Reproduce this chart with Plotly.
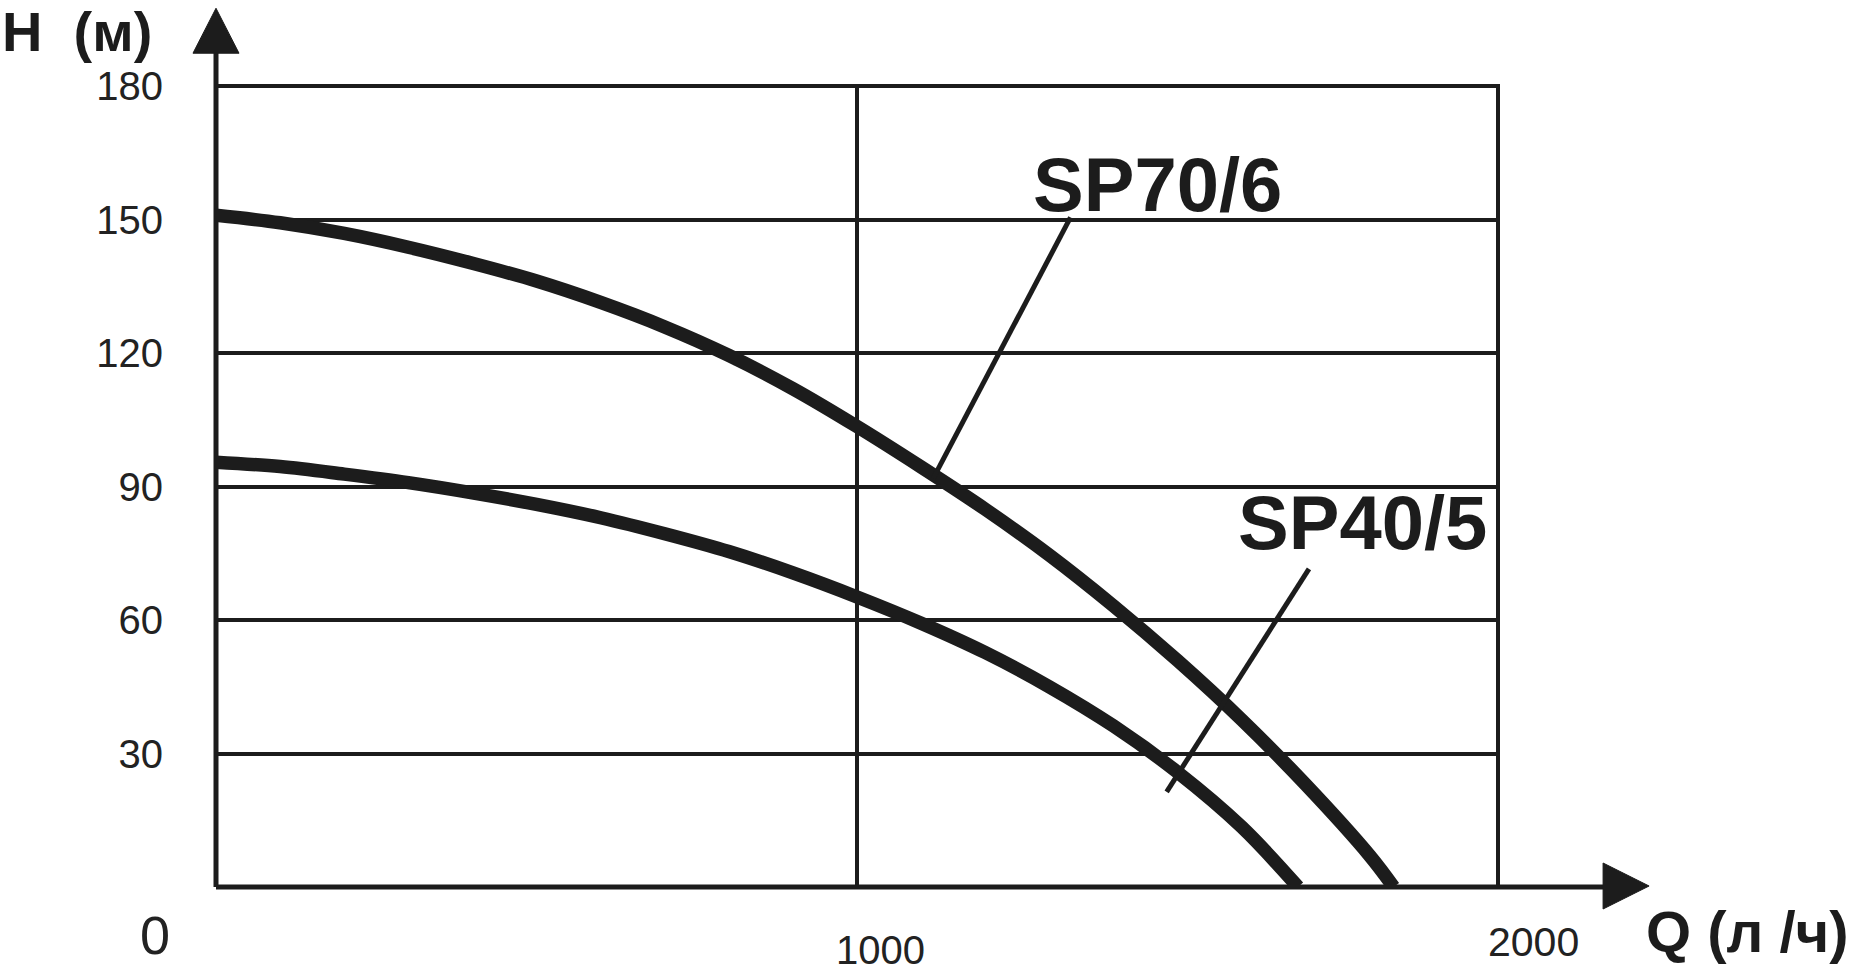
import plotly.graph_objects as go

# ---- data ----
q_sp70 = [0, 100, 200, 300, 400, 500, 600, 700, 800, 900, 1000, 1100, 1200, 1300, 1400, 1500, 1600, 1700, 1800, 1837]
h_sp70 = [151, 149.3, 146.9, 143.8, 140.2, 136.2, 131.4, 125.9, 119.5, 112, 103.5, 94.4, 84.9, 74.6, 63.2, 50.9, 37.6, 23, 7, 0]

q_sp40 = [0, 100, 200, 300, 400, 500, 600, 700, 800, 900, 1000, 1100, 1200, 1300, 1400, 1500, 1600, 1688]
h_sp40 = [95.5, 94.5, 92.8, 90.9, 88.6, 86, 83, 79.4, 75.4, 70.6, 65.2, 59.3, 52.7, 45, 36.2, 25.8, 13.5, 0]

series_names = ["SP70/6", "SP40/5"]
label_q = [1468, 1788]
label_h = [158, 82]
leader_q = [[1333, 1119], [1705, 1483]]
leader_h = [[150.5, 91.9], [71.5, 21.4]]

y_tick_vals = [30, 60, 90, 120, 150, 180]
y_tick_text = ["30", "60", "90", "120", "150", "180"]
x_tick_vals = [0, 1000, 2000]
x_tick_text = ["0", "1000", "2000"]
y_title = "H\u00a0\u00a0(м)"
x_title = "Q (л /ч)"

# ---- styles ----
INK = "#1c1c1c"
FONT = "Liberation Sans, Arial, sans-serif"
x_tick_xshift = [-61, 23, 35]
x_tick_yshift = [-48, -63, -55]
x_tick_size = [54, 40, 41]

fig = go.Figure()

for q, h in ((q_sp70, h_sp70), (q_sp40, h_sp40)):
    fig.add_trace(go.Scatter(x=q, y=h, mode="lines", line=dict(color=INK, width=13.5, shape="spline", smoothing=1.0),
                             hoverinfo="skip", showlegend=False, cliponaxis=False))

for lq, lh in zip(leader_q, leader_h):
    fig.add_trace(go.Scatter(x=lq, y=lh, mode="lines", line=dict(color=INK, width=5),
                             hoverinfo="skip", showlegend=False))

annotations = []
for name, xq, yh in zip(series_names, label_q, label_h):
    annotations.append(dict(x=xq, y=yh, xref="x", yref="y", text="<b>%s</b>" % name, showarrow=False,
                            xanchor="center", yanchor="middle", font=dict(family=FONT, size=76, color=INK)))

for v, t, dx, dy, s in zip(x_tick_vals, x_tick_text, x_tick_xshift, x_tick_yshift, x_tick_size):
    annotations.append(dict(x=v, y=0, xref="x", yref="y", text=t, showarrow=False,
                            xanchor="center", yanchor="middle", xshift=dx, yshift=dy,
                            font=dict(family=FONT, size=s, color="#222222")))

annotations.append(dict(x=-0.1685, y=1.066, xref="paper", yref="paper", text="<b>%s</b>" % y_title, showarrow=False,
                        xanchor="left", yanchor="middle", font=dict(family=FONT, size=56, color=INK)))
annotations.append(dict(x=1.1927, y=-0.055, xref="paper", yref="paper", text="<b>%s</b>" % x_title, showarrow=False,
                        xanchor="center", yanchor="middle", font=dict(family=FONT, size=58, color=INK)))

# plot area geometry: 0..2000 -> 216..1498 px, 0..180 -> 887..86 px (slight range pad so edge grid lines show)
X_MAX, Y_MAX = 2003, 180.5
pw = 1282 * X_MAX / 2000.0
ph = 801 * Y_MAX / 180.0
left, bottom = 216, 971 - 887
right = 1852 - left - pw
top = 971 - bottom - ph

def px(xpix):
    return (xpix - left) / pw

def py(ypix):
    return (971 - bottom - ypix) / ph

shapes = [
    dict(type="line", xref="paper", yref="paper", x0=0, y0=0, x1=0, y1=py(48), line=dict(color=INK, width=5), layer="above"),
    dict(type="line", xref="paper", yref="paper", x0=0, y0=0, x1=px(1608), y1=0, line=dict(color=INK, width=5), layer="above"),
    dict(type="path", xref="paper", yref="paper",
         path="M %f,%f L %f,%f L %f,%f Z" % (px(193), py(53), px(239), py(53), px(216), py(8)),
         fillcolor=INK, line=dict(color=INK, width=1), layer="above"),
    dict(type="path", xref="paper", yref="paper",
         path="M %f,%f L %f,%f L %f,%f Z" % (px(1603), py(863), px(1603), py(909), px(1649), py(886)),
         fillcolor=INK, line=dict(color=INK, width=1), layer="above"),
]

fig.update_layout(
    width=1852, height=971, autosize=False,
    margin=dict(l=left, r=right, t=top, b=bottom, pad=0),
    paper_bgcolor="white", plot_bgcolor="white",
    annotations=annotations, shapes=shapes,
    showlegend=False,
    xaxis=dict(range=[0, X_MAX], tickvals=[1000, 2000], showticklabels=False, showgrid=True,
               gridcolor=INK, gridwidth=4, zeroline=False, showline=False, ticks="", fixedrange=True),
    yaxis=dict(range=[0, Y_MAX], tickvals=y_tick_vals, ticktext=y_tick_text, showgrid=True,
               gridcolor=INK, gridwidth=4, zeroline=False, showline=False, ticks="",
               ticklabelstandoff=52, tickfont=dict(family=FONT, size=40, color="#222222"), fixedrange=True),
)

fig.write_html("out.html", config={"displayModeBar": False},
               post_script="document.body.style.margin='0';document.body.style.overflow='hidden';")
